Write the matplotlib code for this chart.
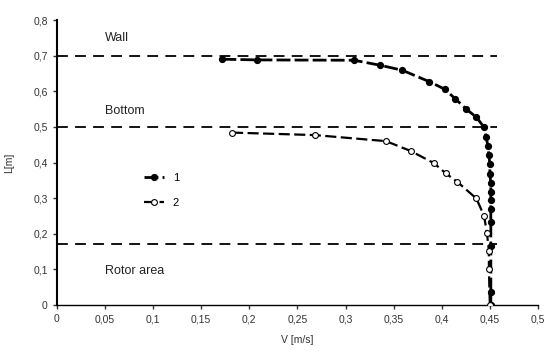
import matplotlib.pyplot as plt
from matplotlib.ticker import FuncFormatter

plt.rcParams['font.family'] = ['Liberation Sans', 'DejaVu Sans']

# series 1 (filled markers)
v1 = [0.172, 0.208, 0.309, 0.336, 0.359, 0.387, 0.403, 0.414, 0.4255, 0.436,
      0.444, 0.446, 0.448, 0.449, 0.450, 0.450, 0.451, 0.451, 0.451, 0.451,
      0.451, 0.451, 0.451, 0.451]
l1 = [0.690, 0.688, 0.687, 0.673, 0.659, 0.627, 0.606, 0.579, 0.550, 0.527,
      0.499, 0.472, 0.447, 0.420, 0.395, 0.368, 0.342, 0.317, 0.295, 0.270,
      0.234, 0.166, 0.036, 0.0]

# series 2 (open markers)
v2 = [0.182, 0.268, 0.342, 0.368, 0.392, 0.404, 0.416, 0.436, 0.444, 0.447,
      0.449, 0.449, 0.450]
l2 = [0.484, 0.477, 0.460, 0.432, 0.398, 0.370, 0.346, 0.299, 0.250, 0.201,
      0.152, 0.100, 0.0]

zones = [0.7, 0.5, 0.171]
zone_names = ['Wall', 'Bottom', 'Rotor area']
zone_text_y = [0.75, 0.545, 0.095]

xticks = [0, 0.05, 0.1, 0.15, 0.2, 0.25, 0.3, 0.35, 0.4, 0.45, 0.5]
yticks = [0, 0.1, 0.2, 0.3, 0.4, 0.5, 0.6, 0.7, 0.8]

fig = plt.figure(figsize=(5.47, 3.51), dpi=100)
ax = fig.add_axes([0.104, 0.131, 0.8795, 0.812])

for y in zones:
    ax.plot([0, 0.457], [y, y], color='black', lw=1.3, dashes=(6, 4), zorder=1)

for name, ty in zip(zone_names, zone_text_y):
    ax.text(0.05, ty, name, fontsize=9, color='#222', va='center')

ax.plot(v1, l1, color='black', lw=2, dashes=(5, 1.5), marker='o', ms=4.2,
        mfc='black', mec='black', label='1', zorder=3)
ax.plot(v2, l2, color='black', lw=1.6, dashes=(5, 2), marker='o', ms=4.2,
        mfc='white', mec='black', mew=0.8, label='2', zorder=4)

ax.set_xlim(0, 0.5)
ax.set_ylim(0, 0.8)
ax.set_xticks(xticks)
ax.set_yticks(yticks)


def comma(x, pos):
    if abs(x) < 1e-9:
        return '0'
    return ('%g' % x).replace('.', ',')


ax.xaxis.set_major_formatter(FuncFormatter(comma))
ax.yaxis.set_major_formatter(FuncFormatter(comma))
ax.tick_params(labelsize=7.5, length=3, width=1, colors='#333')
for s in ['top', 'right']:
    ax.spines[s].set_visible(False)
ax.spines['left'].set_linewidth(1.5)
ax.spines['bottom'].set_linewidth(1)

ax.set_xlabel('V [m/s]', fontsize=7.5, color='#333', labelpad=8)
ax.set_ylabel('L[m]', fontsize=7.5, color='#333', labelpad=14)

ax.legend(loc='upper left', bbox_to_anchor=(0.16, 0.5), frameon=False,
          handlelength=1.8, fontsize=8, labelspacing=1.4, handletextpad=0.8)

fig.savefig('out.png', dpi=100)
